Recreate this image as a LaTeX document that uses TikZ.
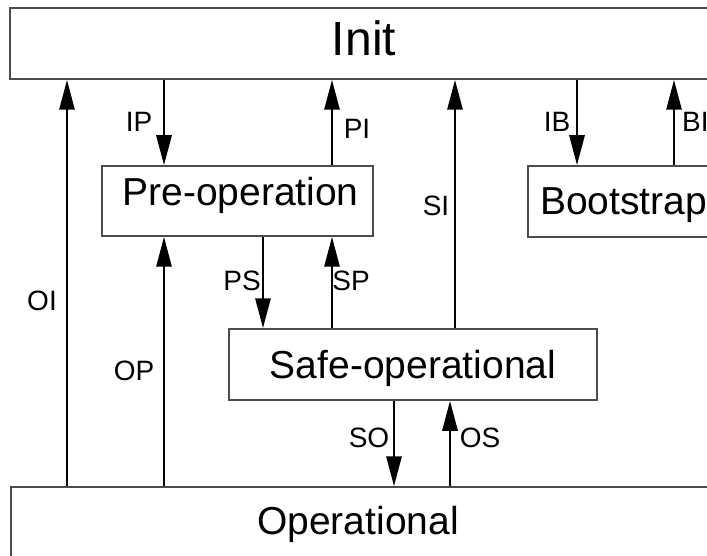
\documentclass[tikz,border=0pt]{standalone}
\usepackage{fontspec}
\setmainfont{Liberation Sans}
\usetikzlibrary{arrows.meta}
\begin{document}
\begin{tikzpicture}[x=1pt,y=-1pt,
  box/.style={draw=black!70, line width=1.5pt, fill=white, inner sep=0pt, font=\fontsize{39}{41}\selectfont, text height=28pt},
  lab/.style={inner sep=0pt, font=\fontsize{28}{30}\selectfont},
  arr/.style={line width=2.9pt, -{Triangle[length=30pt,width=15pt]}}]
\useasboundingbox (0,0) rectangle (707,556);
\clip (0,0) rectangle (707,556);
% boxes
\node[box, minimum width=708pt, minimum height=71pt, font=\fontsize{48}{50}\selectfont, text height=34pt, text depth=10pt] (init) at (364,43.5) {Init};
\node[box, minimum width=271pt, minimum height=70pt, text depth=19pt] (pre) at (237.5,201) {\hspace*{6pt}Pre-operation};
\node[box, minimum width=191pt, minimum height=71pt, text depth=2pt] (boot) at (623.5,201.5) {Bootstrap};
\node[box, minimum width=368pt, minimum height=71pt, text depth=1pt] (safe) at (413,364.5) {Safe-operational};
\node[box, minimum width=709pt, minimum height=76pt, text depth=10pt] (op) at (365.5,525) {\hspace*{-15pt}Operational};
% x positions
\coordinate (xOI) at (67,0);
\coordinate (xIP) at (164,0);
\coordinate (xPI) at (332,0);
\coordinate (xPS) at (263,0);
\coordinate (xSI) at (455,0);
\coordinate (xIB) at (577,0);
\coordinate (xBI) at (674,0);
\coordinate (xSO) at (394,0);
\coordinate (xOS) at (450,0);
% arrows
\draw[arr] (op.north -| xOI) -- (init.south -| xOI);
\draw[arr] (init.south -| xIP) -- (pre.north -| xIP);
\draw[arr] (pre.north -| xPI) -- (init.south -| xPI);
\draw[arr] (op.north -| xIP) -- (pre.south -| xIP);
\draw[arr] (pre.south -| xPS) -- (safe.north -| xPS);
\draw[arr] (safe.north -| xPI) -- (pre.south -| xPI);
\draw[arr] (safe.north -| xSI) -- (init.south -| xSI);
\draw[arr] (init.south -| xIB) -- (boot.north -| xIB);
\draw[arr] (boot.north -| xBI) -- (init.south -| xBI);
\draw[arr] (safe.south -| xSO) -- (op.north -| xSO);
\draw[arr] (op.north -| xOS) -- (safe.south -| xOS);
% labels
\node[lab] (lOI) at (42,301) {OI};
\node[lab] (lIP) at (139,122) {IP};
\node[lab] (lPI) at (357,129) {PI};
\node[lab] (lOP) at (134,371) {OP};
\node[lab] (lPS) at (242,281) {PS};
\node[lab] (lSP) at (351,281) {SP};
\node[lab] (lSI) at (436,205.5) {SI};
\node[lab] (lIB) at (557,122) {IB};
\node[lab, anchor=west] (lBI) at (682,122) {BI};
\node[lab] (lSO) at (369,438) {SO};
\node[lab] (lOS) at (480,438) {OS};
\end{tikzpicture}
\end{document}
